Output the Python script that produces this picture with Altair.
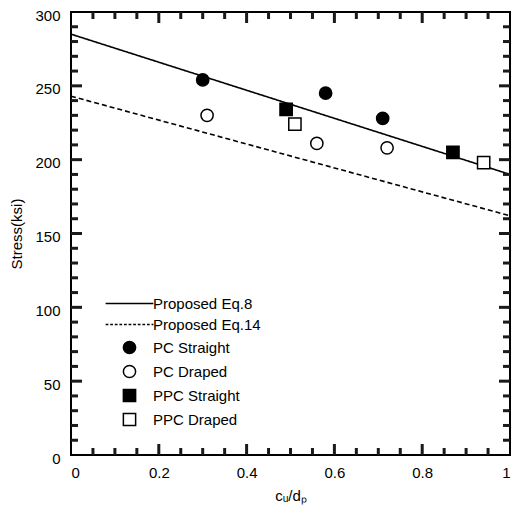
import altair as alt
import pandas as pd

# ---------------- data ----------------
names = ["Proposed Eq.8", "Proposed Eq.14", "PC Straight", "PC Draped", "PPC Straight", "PPC Draped"]

line_x = [0.0, 1.0]
eq8_y = [285, 190]
eq14_y = [243, 162]

pc_straight_x = [0.30, 0.58, 0.71]
pc_straight_y = [254, 245, 228]
pc_draped_x = [0.31, 0.56, 0.72]
pc_draped_y = [230, 211, 208]
ppc_straight_x = [0.49, 0.87]
ppc_straight_y = [234, 205]
ppc_draped_x = [0.51, 0.94]
ppc_draped_y = [224, 198]

x_labels = [0, 0.2, 0.4, 0.6, 0.8, 1.0]
y_labels = [0, 50, 100, 150, 200, 250, 300]
x_major_ticks = [0.2, 0.4, 0.6, 0.8]
x_minor_ticks = [0.05, 0.1, 0.15, 0.25, 0.3, 0.35, 0.45, 0.5, 0.55,
                 0.65, 0.7, 0.75, 0.85, 0.9, 0.95]
y_major_ticks = [50, 100, 150, 200, 250]
y_minor_ticks = [10, 20, 30, 40, 60, 70, 80, 90, 110, 120, 130, 140,
                 160, 170, 180, 190, 210, 220, 230, 240, 260, 270, 280, 290]

# ---------------- tables ----------------
lines = pd.DataFrame({
    "x": line_x + line_x,
    "y": eq8_y + eq14_y,
    "series": [names[0]] * len(line_x) + [names[1]] * len(line_x),
})
pts = pd.DataFrame({
    "x": pc_straight_x + pc_draped_x + ppc_straight_x + ppc_draped_x,
    "y": pc_straight_y + pc_draped_y + ppc_straight_y + ppc_draped_y,
    "series": [names[2]] * 3 + [names[3]] * 3 + [names[4]] * 2 + [names[5]] * 2,
})
xt = pd.DataFrame({
    "v": x_major_ticks + x_minor_ticks,
    "kind": ["major"] * len(x_major_ticks) + ["minor"] * len(x_minor_ticks),
})
yt = pd.DataFrame({
    "v": y_major_ticks + y_minor_ticks,
    "kind": ["major"] * len(y_major_ticks) + ["minor"] * len(y_minor_ticks),
})

W, H = 439, 443
FONT = "Liberation Sans"
MAJ, MIN = 11, 7
TICK_W = 3
TICK_COLOR = "#1a1a1a"

xscale = alt.Scale(domain=[0, 1], nice=False, zero=False, padding=0)
yscale = alt.Scale(domain=[0, 300], nice=False, zero=False, padding=0)

# legend symbol shapes (style only)
solid_path = "M-3.9,0L3.9,0"
dash_parts = []
p = -3.9
while p < 3.9:
    dash_parts.append(f"M{p:.2f},0L{min(p + 0.45, 3.9):.2f},0")
    p += 0.75
dash_path = "".join(dash_parts)

shape_range = [solid_path, dash_path, "circle", "circle", "square", "square"]
fill_range = ["transparent", "transparent", "black", "white", "black", "white"]
stroke_range = ["black"] * 6

legend = alt.Legend(
    title=None, orient="none", legendX=51, legendY=284, padding=0,
    labelFont=FONT, labelFontSize=15, labelColor="black", labelOffset=16,
    symbolStrokeColor="black", symbolStrokeWidth=1.5, symbolSize=150,
    symbolOpacity=1, rowPadding=5,
)

x_axis = alt.Axis(values=x_labels, format="~g", ticks=False, domain=False, grid=False,
                  labelFont=FONT, labelFontSize=15, labelColor="black", labelPadding=10,
                  title="cᵤ/dₚ", titleFont=FONT, titleFontSize=15, titleFontWeight="normal",
                  titleColor="black", titlePadding=8)
y_axis = alt.Axis(values=y_labels, ticks=False, domain=False, grid=False,
                  labelFont=FONT, labelFontSize=15, labelColor="black", labelPadding=11,
                  labelOffset=3,
                  title="Stress(ksi)", titleFont=FONT, titleFontSize=15, titleFontWeight="normal",
                  titleColor="black", titlePadding=10)

line_layer = alt.Chart(lines).mark_line(color="black", strokeWidth=1.6).encode(
    x=alt.X("x:Q", scale=xscale, axis=x_axis),
    y=alt.Y("y:Q", scale=yscale, axis=y_axis),
    detail="series:N",
    strokeDash=alt.StrokeDash("series:N", scale=alt.Scale(domain=names[:2], range=[[1, 0], [5, 3]]),
                              legend=None),
)

point_layer = alt.Chart(pts).mark_point(size=150, opacity=1, strokeWidth=1.5).encode(
    x=alt.X("x:Q"),
    y=alt.Y("y:Q"),
    shape=alt.Shape("series:N", scale=alt.Scale(domain=names, range=shape_range), legend=legend),
    fill=alt.Fill("series:N", scale=alt.Scale(domain=names, range=fill_range), legend=legend),
    stroke=alt.Stroke("series:N", scale=alt.Scale(domain=names, range=stroke_range), legend=legend),
)

# inward tick marks drawn as thin bars through the shared scales
tick_len = {"major": MAJ, "minor": MIN}
tick_layers = []
for kind, ln in tick_len.items():
    xs = xt[xt.kind == kind]
    ys = yt[yt.kind == kind]
    for top in (False, True):
        y0, y1 = (0, ln) if top else (H - ln, H)
        tick_layers.append(
            alt.Chart(xs).mark_bar(color=TICK_COLOR, width=TICK_W, opacity=1).encode(
                x=alt.X("v:Q"), y=alt.value(y0), y2=alt.value(y1)))
    for right in (False, True):
        x0, x1 = (W - ln, W) if right else (0, ln)
        tick_layers.append(
            alt.Chart(ys).mark_bar(color=TICK_COLOR, height=TICK_W, opacity=1, orient="horizontal").encode(
                y=alt.Y("v:Q"), x=alt.value(x0), x2=alt.value(x1)))

chart = alt.layer(line_layer, point_layer, *tick_layers).properties(
    width=W, height=H,
    autosize=alt.AutoSizeParams(type="none"),
    padding={"left": 63, "right": 1, "top": 4, "bottom": 50},
    background="white",
).configure_view(stroke="black", strokeWidth=2)

chart.save("out.html", embed_options={"renderer": "svg", "actions": False})
